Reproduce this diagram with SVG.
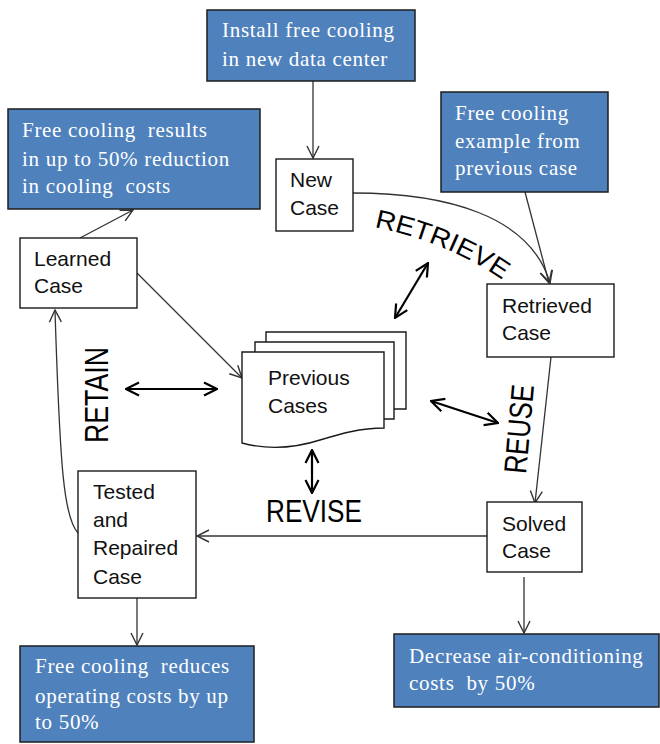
<svg xmlns="http://www.w3.org/2000/svg" width="660" height="744" viewBox="0 0 660 744">
<defs>
<style>
.blue{fill:#4F81BD;stroke:#1e1e1e;stroke-width:1.5}
.white{fill:#fff;stroke:#1a1a1a;stroke-width:1.4}
.bt{font-family:"Liberation Serif",serif;font-size:21px;fill:#fff;letter-spacing:0.7px}
.wt{font-family:"Liberation Sans",sans-serif;font-size:21px;fill:#111}
.lbl{font-family:"Liberation Sans",sans-serif;fill:#000}
.con{fill:none;stroke:#333;stroke-width:1.3}
.dbl{fill:none;stroke:#000;stroke-width:2.2}
</style>
<marker id="ah" markerUnits="userSpaceOnUse" markerWidth="14" markerHeight="14" viewBox="0 0 14 14" refX="13" refY="7" orient="auto">
<path d="M1,1 L13,7 L1,13" fill="none" stroke="#333" stroke-width="1.4"/>
</marker>
<marker id="dh" markerUnits="userSpaceOnUse" markerWidth="16" markerHeight="16" viewBox="0 0 16 16" refX="15" refY="8" orient="auto-start-reverse">
<path d="M2,1.5 L15,8 L2,14.5" fill="none" stroke="#000" stroke-width="2.2"/>
</marker>
</defs>
<rect width="660" height="744" fill="#fff"/>

<g id="connectors">
<line class="con" x1="313" y1="81" x2="313" y2="158" marker-end="url(#ah)"/>
<line class="con" x1="80" y1="238" x2="133" y2="210" marker-end="url(#ah)"/>
<path class="con" d="M353,193 C445,193 530,215 550,283" marker-end="url(#ah)"/>
<line class="con" x1="525" y1="192" x2="549" y2="283" marker-end="url(#ah)"/>
<line class="con" x1="137" y1="273" x2="242" y2="378" marker-end="url(#ah)"/>
<line class="con" x1="551" y1="357" x2="535" y2="503" marker-end="url(#ah)"/>
<line class="con" x1="487" y1="536" x2="197" y2="536" marker-end="url(#ah)"/>
<path class="con" d="M78,533 C64,518 60,470 55,310" marker-end="url(#ah)"/>
<line class="con" x1="137" y1="598" x2="137" y2="645" marker-end="url(#ah)"/>
<line class="con" x1="524" y1="577" x2="524" y2="633" marker-end="url(#ah)"/>
<line class="dbl" x1="126" y1="389" x2="217" y2="389" marker-start="url(#dh)" marker-end="url(#dh)"/>
<line class="dbl" x1="395" y1="318" x2="428" y2="263" marker-start="url(#dh)" marker-end="url(#dh)"/>
<line class="dbl" x1="431" y1="401" x2="498" y2="423" marker-start="url(#dh)" marker-end="url(#dh)"/>
<line class="dbl" x1="312" y1="450" x2="312" y2="493" marker-start="url(#dh)" marker-end="url(#dh)"/>
</g>

<g id="install">
<rect class="blue" x="207" y="10" width="208" height="71"/>
<text class="bt" x="222" y="37">Install free cooling</text>
<text class="bt" x="222" y="66">in new data center</text>
</g>
<g id="results">
<rect class="blue" x="8" y="109" width="252" height="100"/>
<text class="bt" x="22" y="137" xml:space="preserve">Free cooling  results</text>
<text class="bt" x="22" y="166">in up to 50% reduction</text>
<text class="bt" x="22" y="193" xml:space="preserve">in cooling  costs</text>
</g>
<g id="example">
<rect class="blue" x="441" y="92" width="167" height="100"/>
<text class="bt" x="455" y="120">Free cooling</text>
<text class="bt" x="455" y="148">example from</text>
<text class="bt" x="455" y="175">previous case</text>
</g>
<g id="reduces">
<rect class="blue" x="20" y="646" width="234" height="96"/>
<text class="bt" x="35" y="673" xml:space="preserve">Free cooling  reduces</text>
<text class="bt" x="35" y="703">operating costs by up</text>
<text class="bt" x="35" y="729">to 50%</text>
</g>
<g id="decrease">
<rect class="blue" x="394" y="634" width="265" height="73"/>
<text class="bt" x="409" y="663">Decrease air-conditioning</text>
<text class="bt" x="409" y="690" xml:space="preserve">costs  by 50%</text>
</g>

<g id="newcase">
<rect class="white" x="276" y="159" width="77" height="72"/>
<text class="wt" x="290" y="187">New</text>
<text class="wt" x="290" y="215">Case</text>
</g>
<g id="learned">
<rect class="white" x="20" y="238" width="117" height="70"/>
<text class="wt" x="34" y="266">Learned</text>
<text class="wt" x="34" y="293">Case</text>
</g>
<g id="retrieved">
<rect class="white" x="487" y="284" width="127" height="73"/>
<text class="wt" x="502" y="313">Retrieved</text>
<text class="wt" x="502" y="340">Case</text>
</g>
<g id="solved">
<rect class="white" x="487" y="502" width="95" height="70"/>
<text class="wt" x="502" y="531">Solved</text>
<text class="wt" x="502" y="558">Case</text>
</g>
<g id="tested">
<rect class="white" x="78" y="471" width="118" height="127"/>
<text class="wt" x="93" y="499">Tested</text>
<text class="wt" x="93" y="527">and</text>
<text class="wt" x="93" y="555">Repaired</text>
<text class="wt" x="93" y="584">Case</text>
</g>

<g id="previous">
<path class="white" d="M266,332 H406 V409 H266 Z"/>
<path class="white" d="M255,342 H394 V419 H255 Z"/>
<path class="white" d="M242,352 H384 V428 C360,428 340,434 320,440 C295,448 268,450 242,443 Z"/>
<text class="wt" x="268" y="385">Previous</text>
<text class="wt" x="268" y="413">Cases</text>
</g>

<g id="labels">
<path id="rarc" d="M374,227 Q452,243 508,284" fill="none"/>
<text class="lbl" font-size="26"><textPath href="#rarc" textLength="140" lengthAdjust="spacingAndGlyphs">RETRIEVE</textPath></text>
<text class="lbl" font-size="33" text-anchor="middle" textLength="96" lengthAdjust="spacingAndGlyphs" transform="translate(108,395) rotate(-90)">RETAIN</text>
<text class="lbl" font-size="32" text-anchor="middle" textLength="89" lengthAdjust="spacingAndGlyphs" transform="translate(530,430) rotate(-85)">REUSE</text>
<text class="lbl" font-size="32" x="266" y="522" textLength="96" lengthAdjust="spacingAndGlyphs">REVISE</text>
</g>
</svg>
